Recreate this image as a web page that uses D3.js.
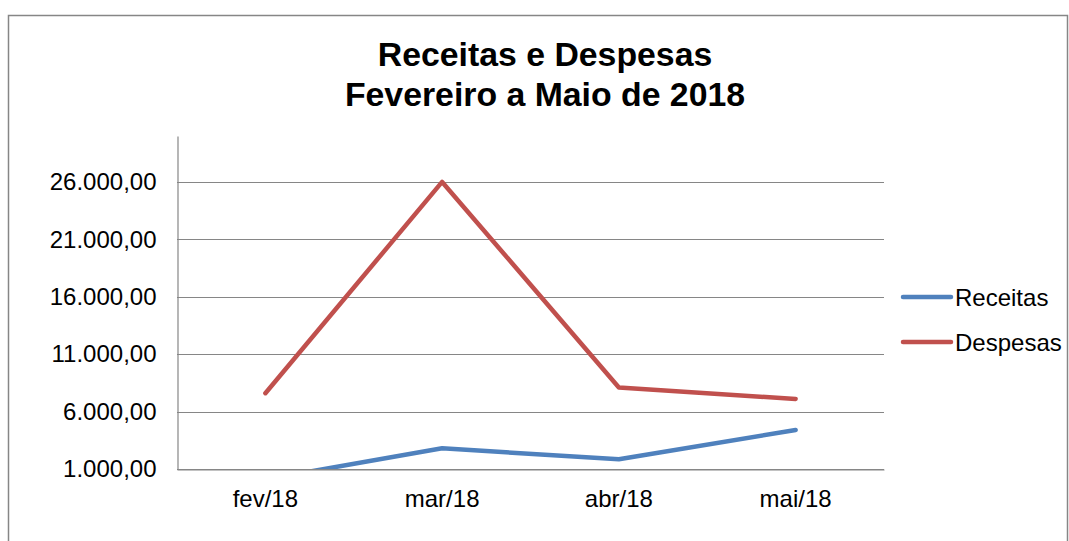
<!DOCTYPE html>
<html>
<head>
<meta charset="utf-8">
<script src="https://cdn.jsdelivr.net/npm/d3@7"></script>
<style>
body { margin: 0; background: #fff; }
</style>
</head>
<body>
<script>
var months = ["fev/18", "mar/18", "abr/18", "mai/18"];
var receitas = [100, 2800, 1850, 4400];
var despesas = [7600, 26000, 8100, 7100];
var yTicks = [1000, 6000, 11000, 16000, 21000, 26000];
var seriesNames = ["Receitas", "Despesas"];
var seriesColors = ["#4F81BD", "#C0504D"];

var width = 1069, height = 541;
var plot = {left: 177, right: 884, top: 136, bottom: 469};

var svg = d3.select("body")
    .append("svg")
    .attr("width", width)
    .attr("height", height)
    .style("font-family", "Liberation Sans, Arial, sans-serif");

// chart frame
svg.append("rect")
    .attr("x", 8.5)
    .attr("y", 15.5)
    .attr("width", 1059)
    .attr("height", 600)
    .attr("fill", "none")
    .attr("stroke", "#868686")
    .attr("stroke-width", 1.5);

svg.append("text")
    .attr("x", 545)
    .attr("y", 66)
    .attr("text-anchor", "middle")
    .attr("font-size", 33.8)
    .attr("font-weight", "bold")
    .text("Receitas e Despesas");

svg.append("text")
    .attr("x", 545)
    .attr("y", 106)
    .attr("text-anchor", "middle")
    .attr("font-size", 33.8)
    .attr("font-weight", "bold")
    .text("Fevereiro a Maio de 2018");

var x = d3.scaleBand()
    .domain(months)
    .range([plot.left, plot.right]);

var y = d3.scaleLinear()
    .domain([1000, 30000])
    .range([plot.bottom, plot.top]);

var br = d3.formatLocale({decimal: ",", thousands: ".", grouping: [3], currency: ["R$", ""]});
var fmt = br.format(",.2f");

// gridlines
svg.append("g")
    .selectAll("line")
    .data(yTicks)
    .enter()
    .append("line")
    .attr("x1", plot.left)
    .attr("x2", plot.right)
    .attr("y1", function(d) { return Math.round(y(d)) + 0.5; })
    .attr("y2", function(d) { return Math.round(y(d)) + 0.5; })
    .attr("stroke", "#868686")
    .attr("stroke-width", 1.2);

// y axis
var yAxis = svg.append("g")
    .attr("transform", "translate(" + (plot.left + 0.5) + ",0)")
    .call(d3.axisLeft(y).tickValues(yTicks).tickFormat(fmt).tickSize(0).tickPadding(21));
yAxis.select(".domain").attr("stroke", "#868686").attr("stroke-width", 1.2);
yAxis.selectAll("text")
    .attr("font-size", 24)
    .attr("font-family", "Liberation Sans, Arial, sans-serif")
    .attr("fill", "#000");

// x axis
var xAxis = svg.append("g")
    .attr("transform", "translate(0," + (plot.bottom + 0.5) + ")")
    .call(d3.axisBottom(x).tickSize(0).tickPadding(20));
xAxis.select(".domain").attr("stroke", "#868686").attr("stroke-width", 1.2);
xAxis.selectAll("text")
    .attr("font-size", 24)
    .attr("font-family", "Liberation Sans, Arial, sans-serif")
    .attr("fill", "#000");

svg.append("clipPath")
    .attr("id", "plotclip")
    .append("rect")
    .attr("x", plot.left)
    .attr("y", plot.top - 10)
    .attr("width", plot.right - plot.left)
    .attr("height", plot.bottom - plot.top + 10);

var line = d3.line()
    .x(function(d, i) { return x(months[i]) + x.bandwidth() / 2; })
    .y(function(d) { return y(d); });

var series = [receitas, despesas];

svg.append("g")
    .attr("clip-path", "url(#plotclip)")
    .selectAll("path")
    .data(series)
    .enter()
    .append("path")
    .attr("d", line)
    .attr("fill", "none")
    .attr("stroke", function(d, i) { return seriesColors[i]; })
    .attr("stroke-width", 4.5)
    .attr("stroke-linejoin", "round")
    .attr("stroke-linecap", "round");

// legend
var legend = svg.selectAll(".legend")
    .data(seriesNames)
    .enter()
    .append("g")
    .attr("class", "legend")
    .attr("transform", function(d, i) {
        return "translate(903," + (297 + i * 45) + ")";
    });

legend.append("line")
    .attr("x1", 0)
    .attr("x2", 48)
    .attr("stroke", function(d, i) { return seriesColors[i]; })
    .attr("stroke-width", 4.5)
    .attr("stroke-linecap", "round");

legend.append("text")
    .attr("x", 52)
    .attr("y", 8.5)
    .attr("font-size", 24)
    .text(function(d) { return d; });
</script>
</body>
</html>
